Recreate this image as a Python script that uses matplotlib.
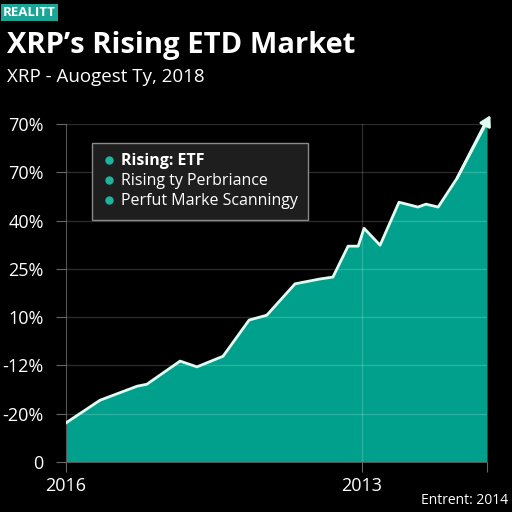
import matplotlib
matplotlib.use("Agg")
import matplotlib.pyplot as plt
from matplotlib.lines import Line2D

plt.rcParams['font.family'] = ['Open Sans', 'DejaVu Sans']

# data
x_vals = [0, 7.4, 8.1, 16.9, 19.2, 27.1, 31.1, 37.3, 43.5, 47.7, 54.4, 60.3,
          63.4, 67.0, 69.4, 70.8, 74.6, 79.1, 83.6, 85.5, 88.4, 92.9, 100]
y_vals = [0.81, 1.24, 1.28, 1.57, 1.61, 2.09, 1.97, 2.19, 2.94, 3.04, 3.69, 3.79,
          3.83, 4.47, 4.47, 4.84, 4.49, 5.38, 5.28, 5.34, 5.28, 5.88, 7.05]
y_tick_labels = ["0", "-20%", "-12%", "10%", "25%", "40%", "70%", "70%"]
x_tick_pos = [0, 70.3, 100]
x_tick_labels = ["2016", "2013", ""]
legend_labels = ["Rising: ETF", "Rising ty Perbriance", "Perfut Marke Scanningy"]

teal = "#00a08c"
fig = plt.figure(figsize=(5.12, 5.12), dpi=100, facecolor="black")
ax = fig.add_axes([66/512, 1-462/512, (487-66)/512, (462-124)/512])
ax.set_facecolor("black")

ax.fill_between(x_vals, y_vals, 0, color=teal, zorder=1, linewidth=0)
ax.plot(x_vals[:-1] + [99.2], y_vals[:-1] + [6.95], color="#dffcf2", lw=2, zorder=3,
        solid_joinstyle="round")
ax.annotate("", xy=(100.8, 7.18), xytext=(x_vals[-2], y_vals[-2]),
            arrowprops=dict(arrowstyle="-|>,head_width=0.35,head_length=0.6",
                            color="#dffcf2", lw=2, shrinkA=0, shrinkB=0),
            annotation_clip=False, zorder=4)

ax.set_xlim(0, 100)
ax.set_ylim(0, 7)
ax.set_yticks(range(8))
ax.set_yticklabels(y_tick_labels)
ax.set_xticks(x_tick_pos)
ax.set_xticklabels(x_tick_labels)
ax.tick_params(colors="#666666", labelcolor="white", labelsize=13, length=7, width=0.8)
ax.tick_params(axis="y", pad=9)
ax.tick_params(axis="x", pad=4)
for s in ["top", "right"]:
    ax.spines[s].set_visible(False)
for s in ["left", "bottom"]:
    ax.spines[s].set_color("#555555")
ax.grid(True, axis="y", color="#ffffff", alpha=0.18, lw=0.9, zorder=2)
ax.axvline(70.3, color="#ffffff", alpha=0.18, lw=0.9, zorder=2)
ax.set_axisbelow(False)

handles = [Line2D([], [], marker="o", ls="", color="#1fb3a0", markersize=5) for _ in legend_labels]
leg = ax.legend(handles, legend_labels, loc="upper left", bbox_to_anchor=(0.062, 0.944),
                borderaxespad=0,
                frameon=True, facecolor="#1e1e1e", edgecolor="#8a8a8a", framealpha=1,
                fancybox=False, labelcolor="white", fontsize=11.5, handletextpad=0.35,
                handlelength=0.8, borderpad=0.65, labelspacing=0.25)
leg.get_texts()[0].set_fontweight("bold")
leg.set_zorder(5)

# header
fig.text(3/512, 1-12.5/512, "REALITT", color="white", fontsize=9.5, fontweight="bold",
         va="center", ha="left",
         bbox=dict(boxstyle="square,pad=0.15", facecolor="#1aa596", edgecolor="none"))
fig.text(7/512, 1-45/512, "XRP’s Rising ETD Market", color="white", fontsize=21,
         fontweight="bold", va="center", ha="left")
fig.text(7/512, 1-77/512, "XRP - Auogest Ty, 2018", color="white", fontsize=13.5,
         va="center", ha="left")
fig.text(508/512, 1-500/512, "Entrent: 2014", color="white", fontsize=10,
         va="center", ha="right")

fig.savefig("out.png", dpi=100, facecolor="black")
